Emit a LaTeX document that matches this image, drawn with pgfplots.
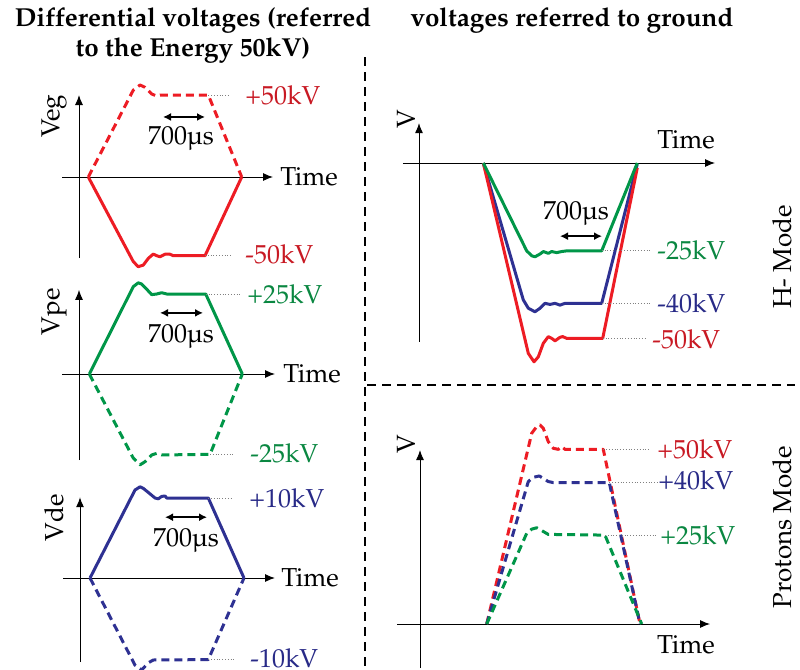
\documentclass[border=0pt]{standalone}
\usepackage[T1]{fontenc}
\usepackage{mathpazo}
\usepackage{pgfplots}
\pgfplotsset{compat=1.18}
\usetikzlibrary{arrows.meta}

\definecolor{cred}{RGB}{237,28,36}
\definecolor{cgreen}{RGB}{0,150,72}
\definecolor{cblue}{RGB}{46,49,146}
\definecolor{tred}{RGB}{200,25,35}
\definecolor{tgreen}{RGB}{10,135,65}
\definecolor{tblue}{RGB}{40,42,135}

\pgfplotsset{
  sketch/.style={axis lines=middle, anchor=origin, x=0.03pt,
    xtick=\empty, ytick=\empty, clip=false,
    axis line style={line width=0.5pt, -{Latex[length=5pt,width=4pt]}}},
  pulse/.style={line width=1.5pt, line join=round},
  dpulse/.style={pulse, dash pattern=on 4pt off 2.5pt},
}
\tikzset{
  lbl/.style={font=\fontsize{13}{15}\selectfont, inner sep=0pt},
  lead/.style={densely dotted, gray, line width=0.4pt},
  dur/.style={{Latex[length=4pt,width=4pt]}-{Latex[length=4pt,width=4pt]}, line width=1pt},
}

\begin{document}
% 1 unit = 1 px of the 800x670 reference, y downwards; axes placed in pt
\begin{tikzpicture}[x=0.5pt, y=-0.5pt]
\useasboundingbox (0,0) rectangle (800,670);

\node[font=\fontsize{13}{15}\selectfont\bfseries, align=center] at (193,35)
  {Differential voltages (referred\\to the Energy 50kV)};
\node[font=\fontsize{13}{15}\selectfont\bfseries] at (572,20) {voltages referred to ground};
\node[lbl, rotate=90] at (782,257) {H- Mode};
\node[lbl, rotate=90] at (782,527) {Protons Mode};

\draw[line width=1.4pt, dash pattern=on 4.5pt off 3pt] (365,57) -- (365,672);
\draw[line width=1.4pt, dash pattern=on 4.5pt off 3pt] (367,385) -- (795,385);

% Veg (time in us, voltage in kV)
\begin{axis}[sketch, at={(39.5pt,-88.5pt)}, y=0.82pt, xmin=-283, xmax=3234, ymin=-49.4, ymax=50]
\addplot[dpulse, cred] coordinates {(155,0)(905,53.0)(1017,56.1)(1100,54.7)(1212,50.6)(1295,49.4)(1350,50)(1462,50)(2155,50)(2712,0)};
\addplot[pulse, cred] coordinates {(155,0)(905,-51.6)(988,-54.7)(1072,-53.7)(1155,-49.6)(1238,-47.0)(1295,-48.0)(1350,-48.6)(1433,-47.1)(1517,-47.1)(1572,-48.0)(2100,-48.0)(2712,0)};
\draw[lead] (axis cs:2155,50) -- (axis cs:2517,50);
\draw[lead] (axis cs:2100,-48) -- (axis cs:2550,-48);
\node[lbl, text=tred, anchor=west] at (axis cs:2767,50) {+50kV};
\node[lbl, text=tred, anchor=west] at (axis cs:2767,-47) {-50kV};
\draw[dur] (axis cs:1400,36.6) -- (axis cs:2100,36.6);
\node[lbl] at (axis cs:1700,23.8) {700\textmu s};
\node[lbl, anchor=west] at (axis cs:3350,0) {Time};
\node[lbl, rotate=90] at (axis cs:-417,37.2) {Veg};
\end{axis}

% Vpe
\begin{axis}[sketch, at={(39.5pt,-187pt)}, y=1.6pt, xmin=-283, xmax=3267, ymin=-26.9, ymax=26.3]
\addplot[pulse, cgreen] coordinates {(172,0)(905,27.3)(988,28.5)(1045,28.1)(1128,26.5)(1212,24.8)(1295,25)(1378,25.4)(1462,25)(2112,25)(2722,0)};
\addplot[dpulse, cgreen] coordinates {(172,0)(905,-26.3)(1017,-28.4)(1100,-27.4)(1212,-25.3)(1295,-24.8)(1378,-25.3)(2184,-25.1)(2722,0)};
\draw[lead] (axis cs:2112,25) -- (axis cs:2685,25);
\draw[lead] (axis cs:2184,-25.1) -- (axis cs:2567,-25.1);
\node[lbl, text=tgreen, anchor=west] at (axis cs:2800,25) {+25kV};
\node[lbl, text=tgreen, anchor=west] at (axis cs:2850,-24.7) {-25kV};
\draw[dur] (axis cs:1350,19.1) -- (axis cs:2067,19.1);
\node[lbl] at (axis cs:1700,11.6) {700\textmu s};
\node[lbl, anchor=west] at (axis cs:3400,0) {Time};
\node[lbl, rotate=90] at (axis cs:-417,19.4) {Vpe};
\end{axis}

% Vde
\begin{axis}[sketch, at={(40pt,-289pt)}, y=4pt, xmin=-283, xmax=3250, ymin=-10.5, ymax=10.1]
\addplot[pulse, cblue] coordinates {(167,0)(917,11)(1000,11.4)(1055,11.2)(1138,10.7)(1250,10.0)(1305,9.9)(1362,10.2)(1417,10.25)(1445,10)(2138,10)(2733,0)};
\addplot[dpulse, cblue] coordinates {(167,0)(917,-10.9)(1028,-11.5)(1138,-10.6)(1222,-10.25)(2138,-10.2)(2733,0)};
\draw[lead] (axis cs:2138,10) -- (axis cs:2550,10);
\draw[lead] (axis cs:2138,-10.2) -- (axis cs:2583,-10.2);
\node[lbl, text=tblue, anchor=west] at (axis cs:2817,10) {+10kV};
\node[lbl, text=tblue, anchor=west] at (axis cs:2833,-10.1) {-10kV};
\draw[dur] (axis cs:1417,7.6) -- (axis cs:2117,7.6);
\node[lbl] at (axis cs:1767,4.75) {700\textmu s};
\node[lbl, anchor=west] at (axis cs:3350,0) {Time};
\node[lbl, rotate=90] at (axis cs:-433,7.5) {Vde};
\end{axis}

% H- mode, referred to ground
\begin{axis}[sketch, at={(209.5pt,-81.5pt)}, y=1.75pt, xmin=-267, xmax=4934, ymin=-51.1, ymax=11.4]
\addplot[pulse, cblue] coordinates {(1072,0)(1738,-39.1)(1822,-41.5)(1933,-42.5)(2017,-41.5)(2100,-40.1)(2183,-40.4)(2267,-40.1)(2350,-40.6)(2433,-40.1)(3045,-40.1)(3638,-0.3)};
\addplot[pulse, cred] coordinates {(1072,0)(1822,-54.4)(1917,-56.8)(1988,-55.4)(2072,-51.5)(2155,-49.6)(2212,-50.1)(2267,-50.8)(2350,-49.8)(2395,-49.6)(2462,-50.1)(3062,-50.1)(3638,-1.4)};
\addplot[pulse, cgreen] coordinates {(1072,0)(1795,-25.1)(1878,-26.5)(1933,-26.8)(2017,-26)(2072,-25.3)(2155,-25.8)(2212,-25.3)(2295,-25.6)(2378,-25.3)(2462,-25.1)(3045,-25.1)(3638,0)};
\draw[lead] (axis cs:3045,-25.1) -- (axis cs:3850,-25.1);
\draw[lead] (axis cs:3045,-40.1) -- (axis cs:3850,-40.1);
\draw[lead] (axis cs:3062,-50.1) -- (axis cs:3767,-50.1);
\node[lbl, text=tgreen, anchor=west] at (axis cs:3967,-25.1) {-25kV};
\node[lbl, text=tblue, anchor=west] at (axis cs:3967,-40) {-40kV};
\node[lbl, text=tred, anchor=west] at (axis cs:3883,-50.4) {-50kV};
\draw[dur] (axis cs:2350,-20.9) -- (axis cs:3050,-20.9);
\node[lbl] at (axis cs:2617,-14.3) {700\textmu s};
\node[lbl] at (axis cs:4450,6.6) {Time};
\node[lbl, rotate=90] at (axis cs:-217,12.6) {V};
\end{axis}

% Protons mode, referred to ground
\begin{axis}[sketch, at={(210pt,-312pt)}, y=1.75pt, xmin=-383, xmax=4834, ymin=-12.6, ymax=49.7]
\addplot[dpulse, cred] coordinates {(1112,0)(1862,54.5)(1945,56.4)(2000,56.9)(2055,55.9)(2138,52.1)(2222,50.2)(2305,49.9)(2362,50.7)(2417,49.9)(3055,49.9)(3667,0)};
\addplot[dpulse, cblue] coordinates {(1112,0)(1805,40.7)(1888,41.9)(1988,42.3)(2055,41.6)(2138,40.7)(2222,40.4)(3155,40.4)(3667,0)};
\addplot[dpulse, cgreen] coordinates {(1112,0)(1778,25.9)(1862,27.1)(1945,27.5)(2028,26.7)(2138,25.6)(3083,25.4)(3695,0)};
\draw[lead] (axis cs:3055,49.9) -- (axis cs:3833,49.9);
\draw[lead] (axis cs:3155,40.4) -- (axis cs:3950,40.4);
\draw[lead] (axis cs:3083,25.4) -- (axis cs:3967,25.4);
\node[lbl, text=tred, anchor=west] at (axis cs:3950,49.9) {+50kV};
\node[lbl, text=tblue, anchor=west] at (axis cs:3967,41.1) {+40kV};
\node[lbl, text=tgreen, anchor=west] at (axis cs:4000,25.4) {+25kV};
\node[lbl] at (axis cs:4433,-6) {Time};
\node[lbl, rotate=90] at (axis cs:-233,51.4) {V};
\end{axis}
\end{tikzpicture}
\end{document}
